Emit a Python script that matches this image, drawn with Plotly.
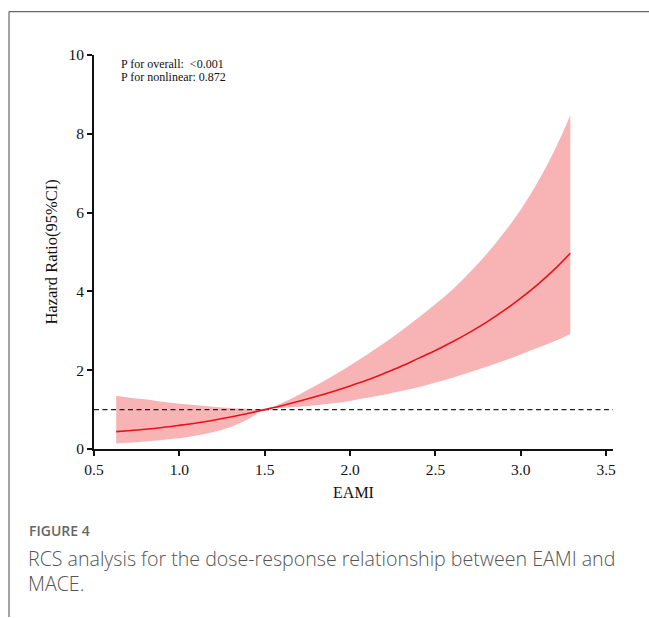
import plotly.graph_objects as go

# Restricted cubic spline estimates: EAMI vs hazard ratio with 95% CI
eami = [0.63, 0.7, 0.8, 0.9, 1.0, 1.1, 1.2, 1.3, 1.4, 1.5, 1.6, 1.7, 1.8, 1.9, 2.0, 2.1,
        2.2, 2.3, 2.4, 2.5, 2.6, 2.7, 2.8, 2.9, 3.0, 3.1, 3.2, 3.29]
hr = [0.44, 0.465, 0.50, 0.545, 0.60, 0.66, 0.73, 0.81, 0.90, 1.00, 1.10, 1.21, 1.33, 1.46,
      1.60, 1.75, 1.92, 2.10, 2.30, 2.50, 2.72, 2.96, 3.22, 3.51, 3.83, 4.18, 4.57, 4.97]
hr_upper = [1.35, 1.31, 1.26, 1.20, 1.15, 1.11, 1.07, 1.04, 1.02, 1.00, 1.17, 1.38, 1.61, 1.86,
            2.12, 2.40, 2.69, 3.00, 3.33, 3.68, 4.05, 4.48, 4.95, 5.48, 6.08, 6.78, 7.60, 8.47]
hr_lower = [0.14, 0.16, 0.19, 0.23, 0.27, 0.34, 0.43, 0.56, 0.75, 1.00, 1.04, 1.07, 1.11, 1.16,
            1.22, 1.30, 1.38, 1.47, 1.57, 1.69, 1.81, 1.95, 2.09, 2.24, 2.40, 2.57, 2.74, 2.92]

x_ticks = [0.5, 1.0, 1.5, 2.0, 2.5, 3.0, 3.5]
y_ticks = [0, 2, 4, 6, 8, 10]
reference_hr = 1

p_text = ["P for overall:&nbsp; &lt;0.001", "P for nonlinear: 0.872"]
fig_label = "FIGURE 4"
caption = ["RCS analysis for the dose-response relationship between EAMI and", "MACE."]

W, H = 649, 618
L, R, T, B = 94, 613, 54.5, 449.5


def px(x):
    return (x - L) / (R - L)


def py(y):
    return (B - y) / (B - T)


fig = go.Figure()

# confidence band: upper edge, then lower edge filled up to it
fig.add_trace(go.Scatter(
    x=eami, y=hr_upper, mode="lines", line=dict(width=0, shape="spline", color="#F8B4B5"),
    hoverinfo="skip", showlegend=False,
))
fig.add_trace(go.Scatter(
    x=eami, y=hr_lower, mode="lines", line=dict(width=0, shape="spline", color="#F8B4B5"),
    fill="tonexty", fillcolor="#F8B4B5", hoverinfo="skip", showlegend=False,
))
# reference line at HR = 1
fig.add_trace(go.Scatter(
    x=[0.5, 3.54], y=[reference_hr, reference_hr], mode="lines",
    line=dict(color="#222222", width=1.3, dash="5px,3.5px"), showlegend=False,
))
# spline estimate
fig.add_trace(go.Scatter(
    x=eami, y=hr, mode="lines", line=dict(color="#E8121A", width=1.6, shape="spline"),
    showlegend=False,
))

axis_font = dict(family="Liberation Serif", size=15.5, color="#111111")
fig.update_xaxes(
    range=[0.5, 3.54], tickvals=x_ticks, ticktext=[f"{v:.1f}" for v in x_ticks],
    showline=True, linecolor="#111111", linewidth=1.8, ticks="outside", ticklen=5,
    tickwidth=1.8, tickcolor="#111111", showgrid=False, zeroline=False,
    tickfont=axis_font, title=dict(text="EAMI", font=dict(axis_font, size=16), standoff=10),
)
fig.update_yaxes(
    range=[0, 10], tickvals=y_ticks, showline=True, linecolor="#111111", linewidth=1.8,
    ticks="outside", ticklen=5, tickwidth=1.8, tickcolor="#111111", showgrid=False,
    zeroline=False, tickfont=axis_font,
    title=dict(text="Hazard Ratio(95%CI)", font=dict(axis_font, size=16.5), standoff=7),
)

ann = []
for i, t in enumerate(p_text):
    ann.append(dict(
        text=t, x=px(119), y=py(64 + 13 * i), xref="paper", yref="paper",
        xanchor="left", yanchor="middle", showarrow=False,
        font=dict(family="Liberation Serif", size=12, color="#111111"),
    ))
ann.append(dict(
    text=fig_label, x=px(27), y=py(531), xref="paper", yref="paper",
    xanchor="left", yanchor="middle", showarrow=False,
    font=dict(family="Open Sans", size=14, color="#666666", weight=600),
))
for i, t in enumerate(caption):
    ann.append(dict(
        text=t, x=px(26), y=py(559 + 25 * i), xref="paper", yref="paper",
        xanchor="left", yanchor="middle", showarrow=False,
        font=dict(family="Open Sans", size=19.6, color="#555555", weight=300),
    ))

# page frame
shapes = [
    dict(type="line", xref="paper", yref="paper", x0=px(9), x1=px(649), y0=py(11), y1=py(11),
         line=dict(color="#666666", width=1.2)),
    dict(type="line", xref="paper", yref="paper", x0=px(9), x1=px(9), y0=py(11), y1=py(618),
         line=dict(color="#666666", width=1.2)),
]

fig.update_layout(
    width=W, height=H, margin=dict(l=L, r=W - R, t=T, b=H - B),
    paper_bgcolor="white", plot_bgcolor="white",
    annotations=ann, shapes=shapes, showlegend=False,
)

fig.write_html("out.html")
